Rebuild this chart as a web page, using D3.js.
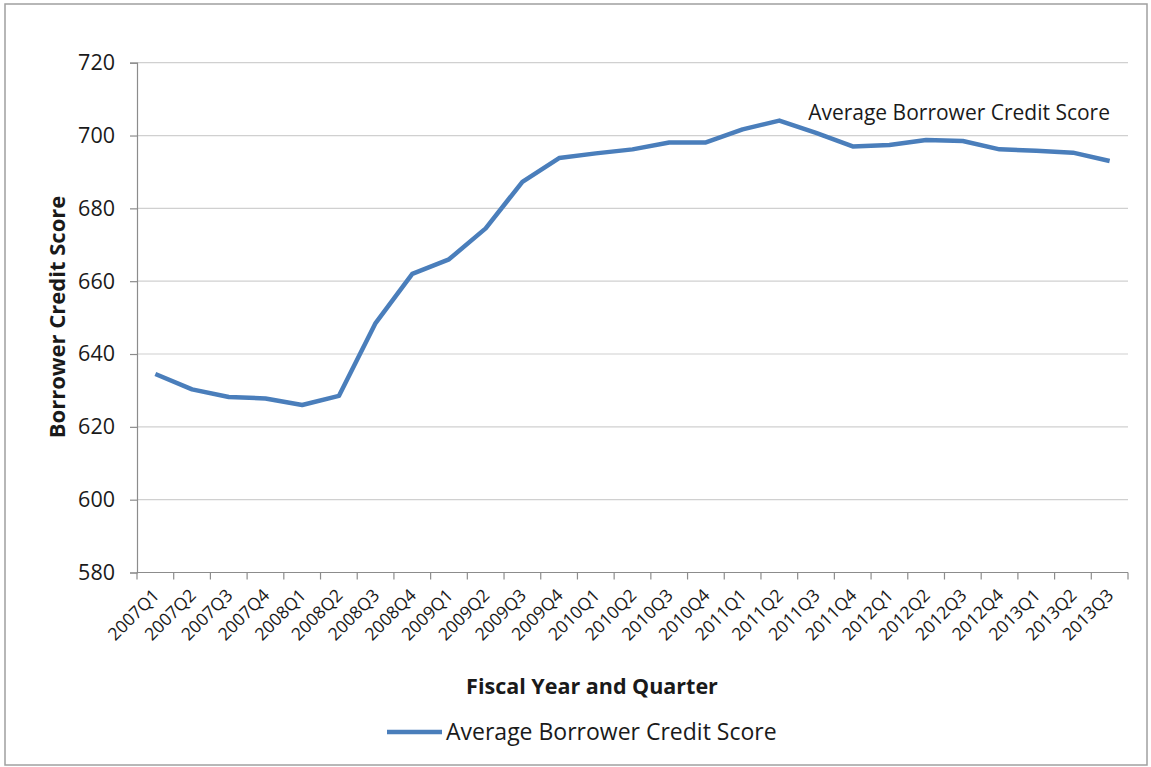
<!DOCTYPE html>
<html>
<head>
<meta charset="utf-8">
<script src="https://cdn.jsdelivr.net/npm/d3@7"></script>
<style>
  body { margin: 0; background: #fff; }
  text { font-family: "Open Sans", sans-serif; fill: #1a1a1a; }
</style>
</head>
<body>
<script>
const w = 1151;
const h = 767;

// data
const quarters = ["2007Q1","2007Q2","2007Q3","2007Q4","2008Q1","2008Q2","2008Q3","2008Q4",
                  "2009Q1","2009Q2","2009Q3","2009Q4","2010Q1","2010Q2","2010Q3","2010Q4",
                  "2011Q1","2011Q2","2011Q3","2011Q4","2012Q1","2012Q2","2012Q3","2012Q4",
                  "2013Q1","2013Q2","2013Q3"];
const scores = [634.5, 630.3, 628.2, 627.8, 626.0, 628.5, 648.5, 662.0,
                666.0, 674.5, 687.3, 693.8, 695.1, 696.2, 698.1, 698.1,
                701.7, 704.1, 700.7, 697.0, 697.4, 698.8, 698.5, 696.2,
                695.8, 695.3, 693.0];
const yTicks = [580, 600, 620, 640, 660, 680, 700, 720];
const seriesName = "Average Borrower Credit Score";

let svg = d3.select("body")
            .append("svg")
                .attr("width", w)
                .attr("height", h);

// outer chart border
svg.append("rect")
    .attr("x", 5).attr("y", 4)
    .attr("width", 1142).attr("height", 761)
    .attr("fill", "#fff")
    .attr("stroke", "#a0a0a0")
    .attr("stroke-width", 1.5);

let x = d3.scaleBand()
    .domain(quarters)
    .range([137, 1128]);

let y = d3.scaleLinear()
    .domain([580, 720])
    .range([572.5, 62.7]);

// gridlines
svg.append("g")
    .selectAll("line")
    .data(yTicks.filter(d => d > 580))
    .enter()
    .append("line")
        .attr("x1", 137).attr("x2", 1128)
        .attr("y1", d => y(d)).attr("y2", d => y(d))
        .attr("stroke", "#d0d0d0")
        .attr("stroke-width", 1.2);

// y axis
let yAxis = svg.append("g")
    .attr("transform", "translate(137,0)")
    .call(d3.axisLeft(y).tickValues(yTicks).tickSize(7).tickPadding(15));
yAxis.selectAll("line, path").attr("stroke", "#8c8c8c").attr("stroke-width", 1.2);
yAxis.selectAll("text")
    .attr("font-size", 21.5)
    .attr("font-family", "'Open Sans', sans-serif")
    .attr("fill", "#1a1a1a");

// x axis, ticks on band edges
let xAxis = svg.append("g")
    .attr("transform", "translate(0," + y(580) + ")");
xAxis.append("line")
    .attr("x1", 137).attr("x2", 1128)
    .attr("stroke", "#8c8c8c").attr("stroke-width", 1.2);
xAxis.selectAll("line.tick")
    .data(quarters.concat(["end"]))
    .enter()
    .append("line")
        .attr("class", "tick")
        .attr("x1", (d, i) => 137 + i * x.step())
        .attr("x2", (d, i) => 137 + i * x.step())
        .attr("y1", 0).attr("y2", 7)
        .attr("stroke", "#8c8c8c").attr("stroke-width", 1.2);
xAxis.selectAll("text")
    .data(quarters)
    .enter()
    .append("text")
        .attr("text-anchor", "end")
        .attr("font-size", 17.5)
        .attr("transform", d => "translate(" + (x(d) + x.bandwidth() / 2 + 5) + ",24) rotate(-45)")
        .text(d => d);

// axis titles
svg.append("text")
    .attr("x", 592).attr("y", 694)
    .attr("text-anchor", "middle")
    .attr("font-size", 21.5)
    .attr("font-weight", "bold")
    .text("Fiscal Year and Quarter");

svg.append("text")
    .attr("transform", "translate(65,317) rotate(-90)")
    .attr("text-anchor", "middle")
    .attr("font-size", 22)
    .attr("font-weight", "bold")
    .text("Borrower Credit Score");

// the series line
let line = d3.line()
    .x((d, i) => x(quarters[i]) + x.bandwidth() / 2)
    .y(d => y(d));

svg.append("path")
    .datum(scores)
    .attr("d", line)
    .attr("fill", "none")
    .attr("stroke", "#4a7ebb")
    .attr("stroke-width", 4.5)
    .attr("stroke-linejoin", "round");

// series label near the end of the line
svg.append("text")
    .attr("x", 1110).attr("y", 120)
    .attr("text-anchor", "end")
    .attr("font-size", 21)
    .text(seriesName);

// legend
svg.append("line")
    .attr("x1", 387).attr("x2", 442)
    .attr("y1", 732).attr("y2", 732)
    .attr("stroke", "#4a7ebb")
    .attr("stroke-width", 4.5);
svg.append("text")
    .attr("x", 446).attr("y", 740)
    .attr("font-size", 23)
    .text(seriesName);
</script>
</body>
</html>
